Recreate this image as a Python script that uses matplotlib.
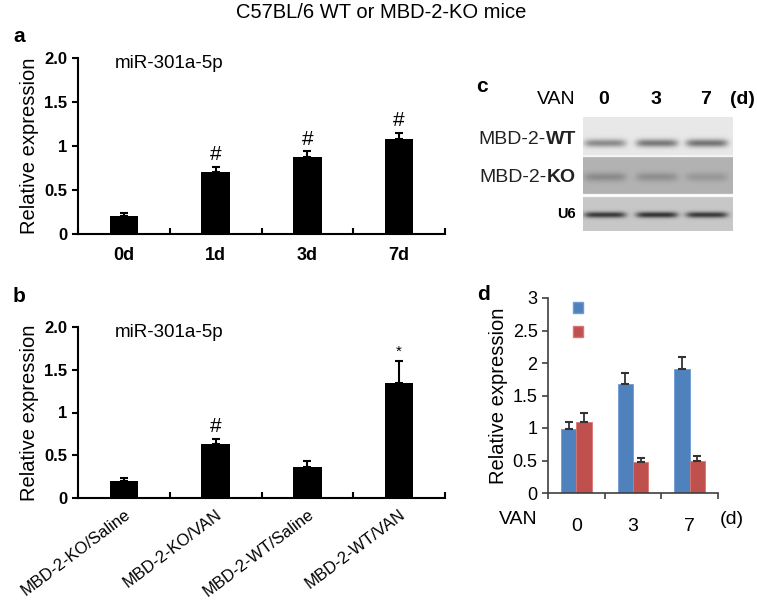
import numpy as np
import matplotlib
matplotlib.use("Agg")
import matplotlib.pyplot as plt
from matplotlib.patches import Patch

# panel a: miR-301a-5p over days of VAN
days = ["0d", "1d", "3d", "7d"]
days_mean = [0.21, 0.70, 0.88, 1.08]
days_err = [0.03, 0.06, 0.06, 0.07]
days_mark = ["", "#", "#", "#"]

# panel b: KO vs WT, saline vs VAN
groups = ["MBD-2-KO/Saline", "MBD-2-KO/VAN", "MBD-2-WT/Saline", "MBD-2-WT/VAN"]
groups_mean = [0.20, 0.63, 0.36, 1.35]
groups_err = [0.03, 0.06, 0.07, 0.25]
groups_mark = ["", "#", "", "*"]

ab_yticks = [0, 0.5, 1, 1.5, 2.0]
ab_ylabels = ["0", "0.5", "1", "1.5", "2.0"]

# panel d: MBD-2 relative expression in WT (blue) and KO (red)
van_days = ["0", "3", "7"]
wt_mean = [0.98, 1.68, 1.91]
wt_err = [0.11, 0.17, 0.18]
ko_mean = [1.09, 0.48, 0.50]
ko_err = [0.14, 0.06, 0.07]
d_yticks = [0, 0.5, 1, 1.5, 2, 2.5, 3]
d_ylabels = ["0", "0.5", "1", "1.5", "2", "2.5", "3"]

# panel c: blot band darkness per lane (0, 3, 7 d)
blot_rows = ["MBD-2-WT", "MBD-2-KO", "U6"]
wt_band = [0.40, 0.48, 0.50]
ko_band = [0.22, 0.20, 0.15]
u6_band = [0.72, 0.75, 0.72]

BLUE = "#4f81bd"
RED = "#c0504d"
NARROW = ["Liberation Sans Narrow", "Liberation Sans", "DejaVu Sans"]
plt.rcParams["font.family"] = ["Liberation Sans", "DejaVu Sans"]

W, H = 757, 602
fig = plt.figure(figsize=(W / 100, H / 100), dpi=100)


def px_axes(x0, x1, y0, y1):
    return fig.add_axes([x0 / W, 1 - y1 / H, (x1 - x0) / W, (y1 - y0) / H])


def black_bars(ax, labels, mean, err, marks):
    x = np.arange(len(labels))
    ax.bar(x, mean, width=0.31, color="black", zorder=2)
    ax.errorbar(x, mean, yerr=[np.zeros(len(mean)), err], fmt="none",
                ecolor="black", elinewidth=1.5, capsize=3, capthick=1.5)
    for xi, m, e, s in zip(x, mean, err, marks):
        if s:
            ax.annotate(s, (xi, m + e), xytext=(0, 2), textcoords="offset points",
                        ha="center", va="bottom", fontsize=15 if s == "#" else 11)
    ax.set_xlim(-0.5, len(labels) - 0.5)
    ax.set_ylim(0, 2.0)
    ax.set_yticks(ab_yticks)
    ax.set_yticklabels(ab_ylabels, family=NARROW, fontweight="bold", fontsize=12)
    ax.set_xticks(x)
    ax.set_xticks(np.arange(len(labels) + 1) - 0.5, minor=True)
    ax.tick_params(axis="x", which="major", length=0, pad=9)
    ax.tick_params(axis="x", which="minor", direction="in", length=4, width=1.5)
    ax.tick_params(axis="y", direction="out", length=4, width=1.5)
    for side in ["top", "right"]:
        ax.spines[side].set_visible(False)
    for side in ["left", "bottom"]:
        ax.spines[side].set_linewidth(1.5)
    ax.set_ylabel("Relative expression", fontsize=14.5, labelpad=4)
    ax.text(0.1, 0.97, "miR-301a-5p", transform=ax.transAxes, fontsize=13.5,
            va="center")


# panel a
ax_a = px_axes(78, 445, 58, 234)
black_bars(ax_a, days, days_mean, days_err, days_mark)
ax_a.set_xticklabels(days, family=NARROW, fontweight="bold", fontsize=13)

# panel b
ax_b = px_axes(78, 445, 327, 498)
black_bars(ax_b, groups, groups_mean, groups_err, groups_mark)
ax_b.set_xticklabels(groups, rotation=37, ha="right", va="top",
                     rotation_mode="anchor", fontsize=12)
ax_b.tick_params(axis="x", which="major", pad=6)

# panel d
ax_d = px_axes(548, 718, 298, 493)
xd = np.arange(len(van_days))
bw = 0.27
ax_d.bar(xd - bw / 2, wt_mean, width=bw, color=BLUE, edgecolor="#6f9ad6",
         linewidth=0.6, zorder=2)
ax_d.bar(xd + bw / 2, ko_mean, width=bw, color=RED, edgecolor="#d77673",
         linewidth=0.6, zorder=2)
ax_d.errorbar(xd - bw / 2, wt_mean, yerr=[np.zeros(3), wt_err], fmt="none",
              ecolor="#333333", elinewidth=1.3, capsize=3, capthick=1.5, zorder=3)
ax_d.errorbar(xd + bw / 2, ko_mean, yerr=[np.zeros(3), ko_err], fmt="none",
              ecolor="#333333", elinewidth=1.3, capsize=3, capthick=1.5, zorder=3)
ax_d.set_xlim(-0.5, 2.5)
ax_d.set_ylim(0, 3)
ax_d.set_yticks(d_yticks)
ax_d.set_yticklabels(d_ylabels, fontsize=13)
ax_d.set_xticks(xd)
ax_d.set_xticklabels(van_days, fontsize=14)
ax_d.set_xticks(np.arange(4) - 0.5, minor=True)
ax_d.tick_params(axis="x", which="major", length=0, pad=18)
ax_d.tick_params(axis="x", which="minor", direction="out", length=4,
                 width=1.2, color="#404040")
ax_d.tick_params(axis="y", direction="out", length=4, width=1.2, color="#404040")
for side in ["top", "right"]:
    ax_d.spines[side].set_visible(False)
for side in ["left", "bottom"]:
    ax_d.spines[side].set_linewidth(1.2)
    ax_d.spines[side].set_color("#404040")
ax_d.set_ylabel("Relative expression", fontsize=14.5, labelpad=3)
ax_d.legend(handles=[Patch(fc=BLUE, ec="#6f9ad6"), Patch(fc=RED, ec="#d77673")],
            labels=["", ""], loc="upper left", bbox_to_anchor=(0.06, 1.06),
            frameon=False, handlelength=0.6, handleheight=0.6,
            handletextpad=0, labelspacing=0.55, fontsize=12)

# overlay in pixel coordinates for titles, panel letters and the blot
ov = fig.add_axes([0, 0, 1, 1], zorder=-1)
ov.set_xlim(0, W)
ov.set_ylim(H, 0)
ov.axis("off")

ov.text(381, 13, "C57BL/6 WT or MBD-2-KO mice", ha="center", va="center",
        fontsize=14.5)
for letter, (lx, ly) in zip("abcd", [(19, 37), (19, 297), (482, 87), (484, 294)]):
    ov.text(lx, ly, letter, ha="center", va="center", fontsize=15,
            fontweight="bold")

# blot header and row labels
ov.text(576, 99, "VAN", ha="right", va="center", fontsize=14)
for lane_x, lab in zip([604, 656, 706], van_days):
    ov.text(lane_x, 99, lab, ha="center", va="center", fontsize=14,
            fontweight="bold")
ov.text(742, 99, "(d)", ha="center", va="center", fontsize=14, fontweight="bold")
ov.text(576, 214, "U6", ha="right", va="center", fontsize=10.5, fontweight="bold")
for name, ly in zip(blot_rows[:2], [140, 177]):
    pre, suf = name.rsplit("-", 1)
    t = ov.text(576, ly, suf, ha="right", va="center", fontsize=14,
                fontweight="bold", color="#222222")
    ov.annotate(pre + "-", xy=(0, 0.5), xycoords=t, ha="right", va="center",
                fontsize=14, color="#222222")

# axis captions for panel d
ov.text(538, 520, "VAN", ha="right", va="center", fontsize=14)
ov.text(732, 520, "(d)", ha="center", va="center", fontsize=14)

# blot image
bx0, bx1, by0, by1 = 583, 733, 117, 231
xx, yy = np.meshgrid(np.linspace(bx0, bx1, 300), np.linspace(by0, by1, 228))
img = np.ones_like(xx)
strips = [(117, 155.5, 0.91, 143, 4.0, wt_band),
          (157, 194, 0.70, 177, 4.5, ko_band),
          (197, 231, 0.78, 215, 3.0, u6_band)]
lanes = [605, 657, 707]
for top, bot, bg, yc, sy, bands in strips:
    inside = (yy >= top) & (yy <= bot)
    dark = np.zeros_like(xx)
    for lx, b in zip(lanes, bands):
        dark += b * np.exp(-((yy - yc) / sy) ** 2) * np.exp(-((xx - lx) / 21) ** 6)
    img[inside] = (bg * (1 - np.clip(dark, 0, 0.95)))[inside]
ov.imshow(img, cmap="gray", vmin=0, vmax=1, extent=(bx0, bx1, by1, by0),
          aspect="auto", interpolation="bilinear")
ov.set_xlim(0, W)
ov.set_ylim(H, 0)

fig.savefig("out.png", dpi=100)
